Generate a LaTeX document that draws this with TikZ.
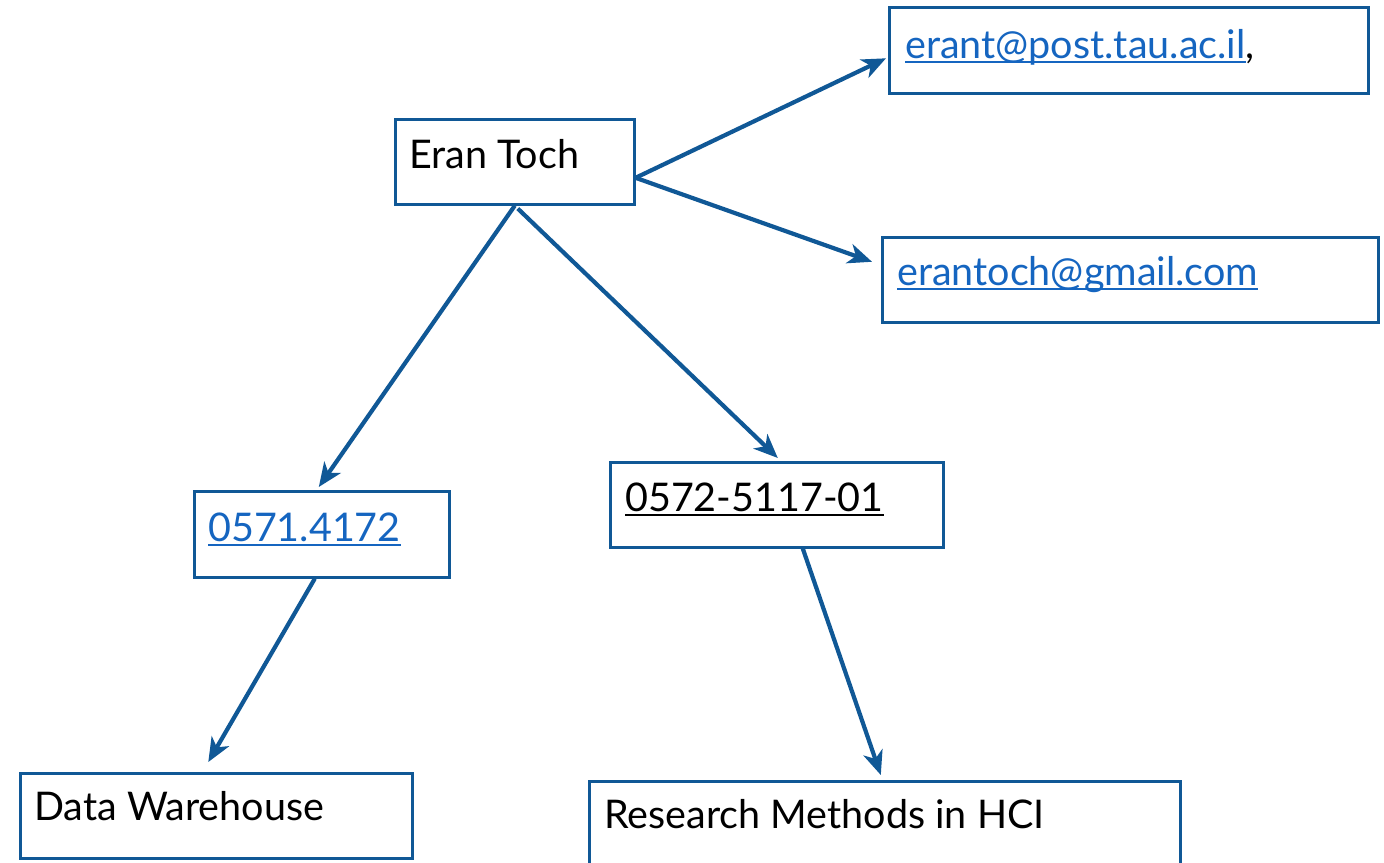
\documentclass[tikz,border=0pt]{standalone}
\usepackage{fontspec}
\setmainfont{Lato}
\usetikzlibrary{arrows.meta,calc}
\definecolor{boxblue}{RGB}{16,88,150}
\definecolor{linkblue}{RGB}{21,101,192}
\newcommand\myul[1]{\setbox0\hbox{#1}\leavevmode\rlap{\rule[-5pt]{\wd0}{1.8pt}}\box0}
\begin{document}
\begin{tikzpicture}[x=1pt,y=-1pt,
  box/.style={draw=boxblue,line width=2.6pt,inner sep=0pt,anchor=north west},
  lbl/.style={anchor=base west,inner sep=0pt,font=\fontsize{39.5}{42}\selectfont},
  link/.style={lbl,text=linkblue},
  conn/.style={draw=boxblue,line width=4.2pt,-{Stealth[length=24pt,width=20pt,inset=7pt]}}]
\useasboundingbox (0,0) rectangle (1384,862);
% boxes
\node[box,minimum width=239pt,minimum height=85pt] (eran) at (394,118) {};
\node[box,minimum width=479pt,minimum height=86pt] (erant) at (888,6) {};
\node[box,minimum width=496pt,minimum height=85pt] (gmail) at (881,236) {};
\node[box,minimum width=255pt,minimum height=86pt] (n0571) at (193,490) {};
\node[box,minimum width=333pt,minimum height=85pt] (n0572) at (609,461) {};
\node[box,minimum width=392pt,minimum height=85pt] (dw) at (19,772) {};
\node[box,minimum width=591pt,minimum height=110pt] (rm) at (588,780) {};
% texts
\node[lbl] (teran) at (409,168) {Eran Toch};
\node[lbl] (terant) at (905,58) {\textcolor{linkblue}{\myul{erant@post.tau.ac.il}},};
\node[link] (tgmail) at (897,285) {\myul{erantoch@gmail.com}};
\node[link] (t0571) at (208,541) {\myul{0571.4172}};
\node[lbl] (t0572) at (625,511) {\myul{0572-5117-01}};
\node[lbl] (tdw) at (34,820) {Data Warehouse};
\node[lbl] (trm) at (604,828) {Research Methods in HCI};
% connectors
\draw[conn] ([yshift=-16pt]eran.east) -- ([yshift=-8pt,xshift=-2pt]erant.west);
\draw[conn] ([yshift=-16pt]eran.east) -- ([yshift=18pt,xshift=-9pt]gmail.west);
\draw[conn] (eran.south) -- ([xshift=-3pt,yshift=3pt]n0571.north);
\draw[conn] ([xshift=3pt,yshift=-3pt]eran.south) -- ([xshift=1pt,yshift=3pt]n0572.north);
\draw[conn] ([xshift=-7pt]n0571.south) -- ([xshift=-8pt,yshift=10pt]dw.north);
\draw[conn] ([xshift=26pt]n0572.south) -- ([xshift=-4pt,yshift=5pt]rm.north);
\end{tikzpicture}
\end{document}
